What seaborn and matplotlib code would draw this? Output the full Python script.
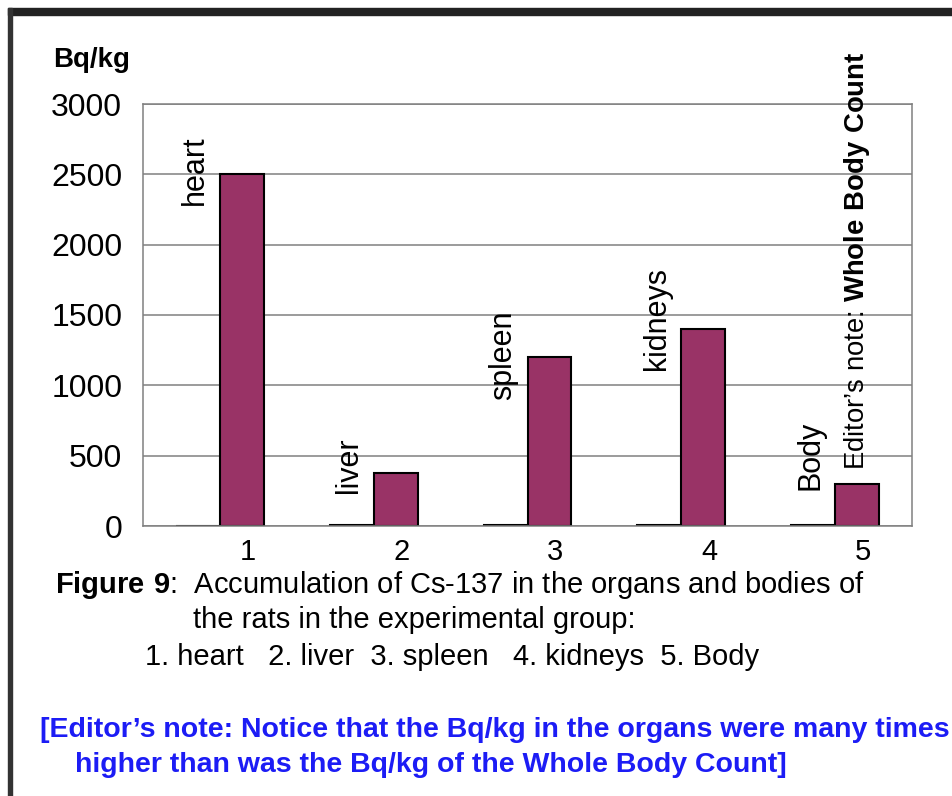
import matplotlib
matplotlib.use("Agg")
import matplotlib.pyplot as plt
from matplotlib.patches import Rectangle
import numpy as np
import pandas as pd
import seaborn as sns

categories = ["1", "2", "3", "4", "5"]
organ_names = ["heart", "liver", "spleen", "kidneys", "Body"]
main_values = [2500, 375, 1200, 1400, 300]
small_values = [0, 8, 8, 8, 8]
label_base = [2280, 235, 895, 1110, 255]
y_ticks = [0, 500, 1000, 1500, 2000, 2500, 3000]

bar_color = "#993366"
grid_color = "#808080"

df = pd.DataFrame({
    "cat": categories * 2,
    "series": ["small"] * 5 + ["main"] * 5,
    "value": small_values + main_values,
})

sns.set_theme(style="white")
plt.rcParams["font.family"] = ["Liberation Sans", "DejaVu Sans"]
plt.rcParams["text.color"] = "black"
plt.rcParams["xtick.color"] = "black"
plt.rcParams["ytick.color"] = "black"
plt.rcParams["mathtext.fontset"] = "custom"
plt.rcParams["mathtext.rm"] = "Liberation Sans"
plt.rcParams["mathtext.bf"] = "Liberation Sans:bold"

fig = plt.figure(figsize=(9.53, 7.96), dpi=100)
ax = fig.add_axes([143 / 953, 1 - 526 / 796, (912 - 143) / 953, (526 - 104) / 796])

sns.barplot(data=df, x="cat", y="value", hue="series", hue_order=["small", "main"],
            palette=[bar_color, bar_color], saturation=1, width=0.57, gap=0,
            edgecolor="black", linewidth=1.5, legend=False, ax=ax)

ax.set_xlim(-0.5, 4.5)
ax.set_ylim(0, 3000)
ax.set_yticks(y_ticks)
ax.set_yticklabels([str(v) for v in y_ticks], fontsize=23)
ax.yaxis.grid(True, color=grid_color, linewidth=1.1)
ax.set_axisbelow(True)
ax.set_xlabel("")
ax.set_ylabel("")

pos = np.arange(len(categories))
ax.set_xticks(pos + 0.18)
ax.set_xticklabels(categories, fontsize=21)
ax.set_xticks(np.arange(-0.5, 5.0, 1.0), minor=True)
ax.tick_params(axis="x", which="major", length=0, pad=9)
ax.tick_params(axis="x", which="minor", length=8, width=1.1, color=grid_color, direction="out")
ax.tick_params(axis="y", length=7, width=1.1, color=grid_color, labelcolor="black",
               direction="out", pad=8)
for sp in ax.spines.values():
    sp.set_color(grid_color)
    sp.set_linewidth(1.1)

# rotated organ labels
for i, name in enumerate(organ_names):
    ax.text(i - 0.16, label_base[i], name, rotation=90, ha="center", va="bottom",
            fontsize=22, clip_on=False)
ax.text(4 + 0.14, 398, r"Editor’s note: $\bf{Whole\ Body\ Count}$", rotation=90,
        ha="center", va="bottom", fontsize=19.8, clip_on=False)

fig.text(53 / 953, 1 - 60 / 796, "Bq/kg", fontsize=20, fontweight="bold", va="center", ha="left")

# caption
fig.text(55 / 953, 1 - 585 / 796,
         r"$\bf{Figure\ 9}$:  Accumulation of Cs-137 in the organs and bodies of",
         fontsize=21, va="center", ha="left")
fig.text(193 / 953, 1 - 620 / 796, "the rats in the experimental group:",
         fontsize=21, va="center", ha="left")
fig.text(145 / 953, 1 - 657 / 796, "1. heart   2. liver  3. spleen   4. kidneys  5. Body",
         fontsize=21, va="center", ha="left")

blue = "#1c1cf5"
fig.text(40 / 953, 1 - 730 / 796,
         "[Editor’s note: Notice that the Bq/kg in the organs were many times",
         fontsize=20.5, fontweight="bold", color=blue, va="center", ha="left")
fig.text(75 / 953, 1 - 765 / 796,
         "higher than was the Bq/kg of the Whole Body Count]",
         fontsize=20.5, fontweight="bold", color=blue, va="center", ha="left")

# page frame
fig.add_artist(Rectangle((8 / 953, 1 - 15 / 796), 945 / 953, 7 / 796,
                         transform=fig.transFigure, color="#222222"))
fig.add_artist(Rectangle((8 / 953, 0), 4 / 953, 1 - 8 / 796,
                         transform=fig.transFigure, color="#333333"))

fig.savefig("out.png", dpi=100)
